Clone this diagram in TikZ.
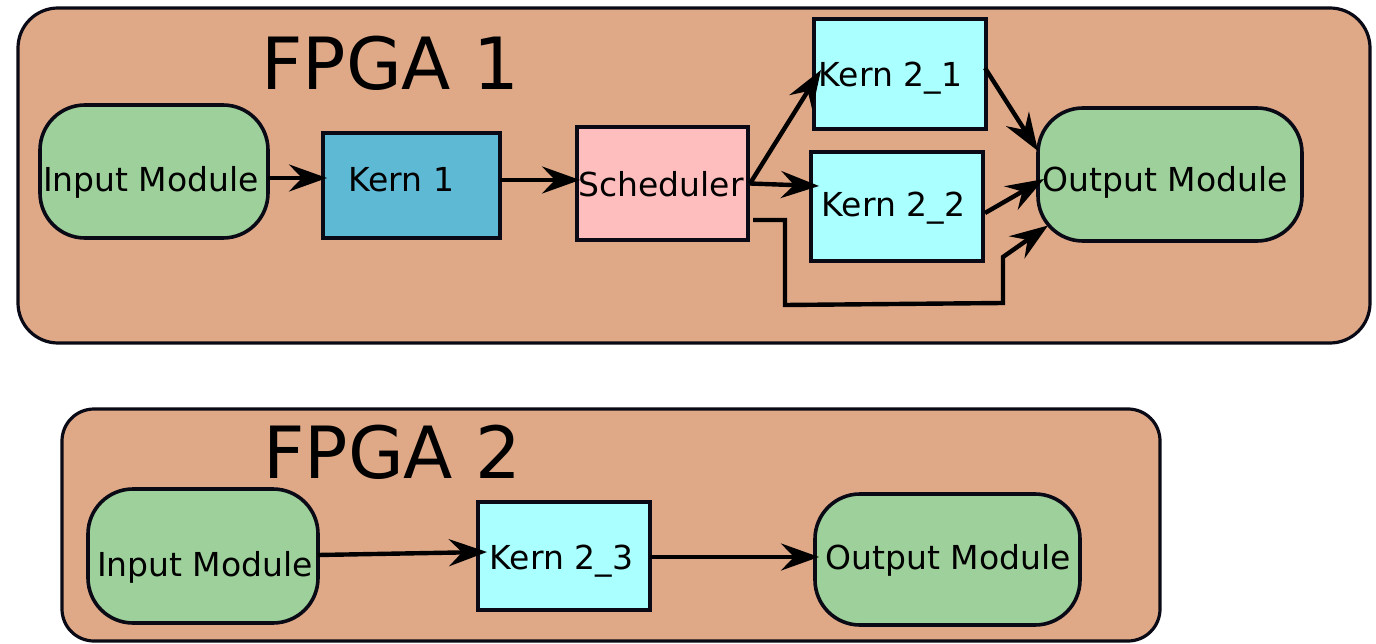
\documentclass[tikz,border=0pt]{standalone}
\usepackage{fontspec}
\setmainfont{DejaVu Sans}
\usetikzlibrary{arrows.meta,calc}

\definecolor{fpgafill}{HTML}{DFA987}
\definecolor{modfill}{HTML}{9ED09B}
\definecolor{kernblue}{HTML}{5EB9D5}
\definecolor{schedpink}{HTML}{FFBEBE}
\definecolor{kerncyan}{HTML}{AAFFFF}
\definecolor{edge}{HTML}{0A0A16}

\tikzset{
  fpga/.style={draw=edge, line width=3.2pt, fill=fpgafill, rounded corners=#1,
    inner sep=0pt, outer sep=0pt},
  title/.style={inner sep=0pt, anchor=base west, font=\fontsize{72}{80}\selectfont},
  module/.style={draw=edge, line width=3.6pt, fill=modfill, rounded corners=45pt,
    inner sep=0pt, outer sep=0pt},
  kernbox/.style={draw=edge, line width=3.8pt, fill=#1, inner sep=0pt, outer sep=0pt},
  label/.style={inner sep=0pt, anchor=base, font=\fontsize{33}{36}\selectfont},
  arr/.style={line width=4.4pt, draw=black, line join=miter,
    -{Stealth[length=38pt, width=27pt, inset=13pt]}},
}

\begin{document}
\begin{tikzpicture}[x=1pt, y=-1pt]
  \useasboundingbox (0,0) rectangle (1376,644);

  % ---- FPGA 1 ----
  \node[fpga=40pt, minimum width=1352pt, minimum height=335pt] (fp1) at (694,175.5) {};
  \node[title] (fp1t) at (261,90) {FPGA 1};

  \node[module, minimum width=228pt, minimum height=133pt] (in1) at (154,171.5) {};
  \node[label] (in1t) at (151,192) {Input Module};

  \node[kernbox=kernblue, minimum width=177pt, minimum height=105pt] (k1) at (411.5,185.5) {};
  \node[label] (k1t) at (401.5,192) {Kern 1};

  \node[kernbox=schedpink, minimum width=171pt, minimum height=113pt] (sch) at (662.5,183.5) {};
  \node[label] (scht) at (661,197) {Scheduler};

  \node[kernbox=kerncyan, minimum width=172pt, minimum height=110pt] (k21) at (900,74) {};
  \node[label] (k21t) at (890.5,87) {Kern 2\_1};

  \node[kernbox=kerncyan, minimum width=172pt, minimum height=109pt] (k22) at (897,206.5) {};
  \node[label] (k22t) at (893.5,217) {Kern 2\_2};

  \node[module, minimum width=264pt, minimum height=133pt] (out1) at (1170,174.5) {};
  \node[label] (out1t) at (1165,192) {Output Module};

  % connectors in FPGA 1
  \draw[arr] ($(in1.east)+(0,6.5)$) -- ($(k1.west)+(4,-7.5)$);
  \draw[arr] ($(k1.east)+(0,-5.5)$) -- ($(sch.west)+(3,-3.5)$);
  \draw[arr] ($(sch.east)+(2,0)$) -- ($(k21.west)+(7,-4)$);
  \draw[arr] ($(sch.east)+(2,0)$) -- ($(k22.west)+(8,-20.5)$);
  \draw[arr] ($(k21.east)+(-1,-6)$) -- ($(out1.west)+(0,-23.5)$);
  \draw[arr] ($(k22.east)+(2,6.5)$) -- ($(out1.west)+(6,4.5)$);
  \draw[arr] ($(sch.east)+(5,36.5)$) -- ++(32,0) -- ++(0,85) -- ++(218,-2)
    -- ++(0,-46) -- ($(out1.west)+(10,51)$);

  % ---- FPGA 2 ----
  \node[fpga=32pt, minimum width=1098pt, minimum height=232pt] (fp2) at (611,525) {};
  \node[title] (fp2t) at (263,478) {FPGA 2};

  \node[module, minimum width=230pt, minimum height=134pt] (in2) at (203,556) {};
  \node[label] (in2t) at (205,576) {Input Module};

  \node[kernbox=kerncyan, minimum width=172pt, minimum height=108pt] (k23) at (564,556) {};
  \node[label] (k23t) at (561.5,569) {Kern 2\_3};

  \node[module, minimum width=265pt, minimum height=131pt] (out2) at (947.5,559.5) {};
  \node[label] (out2t) at (948,569) {Output Module};

  % connectors in FPGA 2
  \draw[arr] ($(in2.east)+(0,-1)$) -- ($(k23.west)+(9,-4)$);
  \draw[arr] ($(k23.east)+(0,1)$) -- ($(out2.west)+(4,-2.5)$);
\end{tikzpicture}
\end{document}
